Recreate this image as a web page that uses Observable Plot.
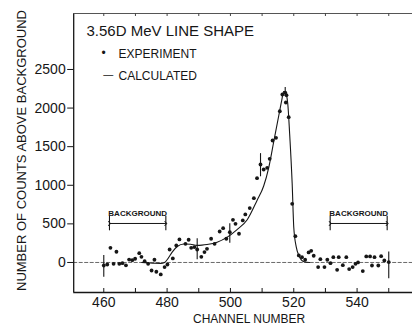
<!DOCTYPE html>
<html><head><meta charset="utf-8">
<script src="https://cdn.jsdelivr.net/npm/d3@7"></script>
<script src="https://cdn.jsdelivr.net/npm/@observablehq/plot@0.6"></script>
<style>
html,body{margin:0;padding:0;background:#fff;}
#chart svg{display:block;}
</style></head><body><div id="chart"></div>
<script>
// Experimental points (channel, counts above background)
const expChannel = [460.0,461.1,462.1,463.1,464.0,464.9,465.9,467.0,468.0,469.0,469.9,471.2,471.9,472.9,474.0,475.1,476.0,476.6,478.0,479.2,480.1,480.8,481.8,482.9,483.9,485.8,486.8,487.6,488.6,489.5,490.8,491.8,492.6,493.9,495.0,496.6,497.7,498.7,499.8,500.8,501.6,502.7,503.9,504.7,506.1,507.4,508.4,509.5,510.5,511.6,512.4,513.3,514.4,515.6,516.4,517.3,517.5,517.7,518.4,519.5,520.5,521.6,522.6,523.6,524.7,525.5,526.3,527.7,528.4,529.7,530.6,531.6,532.5,533.7,534.2,535.5,536.6,537.5,538.6,539.5,540.3,541.8,542.9,544.1,544.7,545.5,546.7,547.6,548.6,550.0];
const expCounts  = [-39,-26,190,-17,139,-17,-9,-37,37,30,48,120,73,17,-17,-104,35,-120,-155,-60,-26,168,52,220,298,242,294,190,200,168,73,135,177,307,242,401,444,307,392,553,501,372,544,622,705,833,1092,1269,1204,1226,1343,1580,1615,1959,2176,2201,2072,2167,1882,760,340,91,69,35,130,151,87,-60,43,-60,35,-9,69,-95,69,-35,69,-86,-60,-17,0,-112,78,78,-39,69,-39,82,26,5];

// Error bars
const errChannel = [460.0, 489.5, 499.8, 509.5, 517.3, 550.0];
const errLow     = [-190, 35, 250, 1110, 2150, -211];
const errHigh    = [91, 307, 501, 1410, 2265, 134];

// Calculated line shape
const calcChannel = [472,474,476,478,479.2,480,481.6,483.2,485.3,487.4,489.5,491,492.6,495.8,499,502,505.3,508.4,510.5,512.1,513.7,515.3,516.2,516.8,517.4,518.1,518.7,519.5,520,520.8,521.6,523.2,525];
const calcCounts  = [0,-5,-10,-12,0,35,134,207,240,235,222,225,233,263,328,423,553,803,990,1230,1570,1910,2100,2215,2200,2060,1667,1019,457,198,91,10,0];

// Background regions
const bgStart = [461.8, 531.5];
const bgEnd   = [479.6, 549.5];
const bgLabel = ["BACKGROUND", "BACKGROUND"];

// Ticks and text
const yTicks = [0, 500, 1000, 1500, 2000, 2500];
const xTickLabels = [460, 480, 500, 520, 540];
const xMinorTicks = [460, 470, 480, 490, 500, 510, 520, 530, 540, 550];
const titleText = "3.56D MeV LINE SHAPE";
const legendExp = "EXPERIMENT";
const legendCalc = "CALCULATED";
const xLabel = "CHANNEL NUMBER";
const yLabel = "NUMBER OF COUNTS ABOVE BACKGROUND";

const expData = expChannel.map((c, i) => ({c, v: expCounts[i]}));
const errData = errChannel.map((c, i) => ({c, lo: errLow[i], hi: errHigh[i]}));
const calcData = calcChannel.map((c, i) => ({c, v: calcCounts[i]}));
const bgLevel = 505, bgHalf = 95;
const bgData = bgStart.map((s, i) => ({s, e: bgEnd[i], m: (s + bgEnd[i]) / 2, label: bgLabel[i]}));

const xDomain = [450.5, 557.5];
const yDomain = [-389, 3225];
const font = "'Liberation Sans', Arial, sans-serif";
const ink = "#161616";

const chart = Plot.plot({
  width: 412, height: 326,
  marginLeft: 73.2, marginRight: 0, marginTop: 13, marginBottom: 34,
  x: {domain: xDomain, axis: null},
  y: {domain: yDomain, axis: null},
  style: {fontFamily: font, background: "#fff", color: ink},
  marks: [
    Plot.ruleY([0], {stroke: "#444", strokeWidth: 0.8, strokeDasharray: "4,1.5"}),
    Plot.line(calcData, {x: "c", y: "v", curve: "monotone-x", stroke: ink, strokeWidth: 1.1}),
    Plot.ruleX(errData, {x: "c", y1: "lo", y2: "hi", stroke: ink, strokeWidth: 1.1}),
    Plot.dot(expData, {x: "c", y: "v", r: 1.9, fill: ink, stroke: null}),
    // background brackets
    Plot.link(bgData, {x1: "s", x2: "e", y1: () => bgLevel, y2: () => bgLevel, stroke: ink, strokeWidth: 1, markerStart: "arrow", markerEnd: "arrow"}),
    Plot.ruleX(bgData, {x: "s", y1: () => bgLevel - bgHalf, y2: () => bgLevel + bgHalf, stroke: ink, strokeWidth: 1.1}),
    Plot.ruleX(bgData, {x: "e", y1: () => bgLevel - bgHalf, y2: () => bgLevel + bgHalf, stroke: ink, strokeWidth: 1.1}),
    Plot.text(bgData, {x: "m", y: () => bgLevel, text: "label", dy: -7, lineAnchor: "bottom", fontSize: 8, fontWeight: "bold", fill: ink, ariaLabel: "bglabel"}),
    // frame
    Plot.ruleX([xDomain[0]], {stroke: ink, strokeWidth: 1.3}),
    Plot.ruleY([yDomain[0]], {stroke: ink, strokeWidth: 1.3}),
    Plot.ruleY([yDomain[1]], {stroke: "#555", strokeWidth: 1}),
    Plot.ruleX(xMinorTicks, {stroke: ink, strokeWidth: 1, insetTop: 275}),
    Plot.ruleX(xMinorTicks, {stroke: "#444", strokeWidth: 1, insetBottom: 276}),
    Plot.axisY(yTicks, {anchor: "left", tickSize: 6, tickPadding: 2, fontSize: 14, tickFormat: d => String(d), stroke: ink, fill: ink, ariaLabel: "yticks"}),
    Plot.axisX(xTickLabels, {anchor: "bottom", tickSize: 0, tickPadding: 5, fontSize: 14, tickFormat: d => String(d), fill: ink, ariaLabel: "xticks"}),
    // titles / legend
    Plot.text([titleText], {text: d => d, frameAnchor: "top-left", dx: 12.8, dy: 22, lineAnchor: "bottom", textAnchor: "start", fontSize: 15, fill: ink, ariaLabel: "title"}),
    Plot.text(["•"], {text: d => d, frameAnchor: "top-left", dx: 29.8, dy: 39.5, lineAnchor: "middle", textAnchor: "middle", fontSize: 12, fill: ink}),
    Plot.text([legendExp], {text: d => d, frameAnchor: "top-left", dx: 44.8, dy: 44.5, lineAnchor: "bottom", textAnchor: "start", fontSize: 12, fill: ink, ariaLabel: "legend"}),
    Plot.text(["—"], {text: d => d, frameAnchor: "top-left", dx: 29.5, dy: 61.3, lineAnchor: "middle", textAnchor: "start", fontSize: 10, fill: ink}),
    Plot.text([legendCalc], {text: d => d, frameAnchor: "top-left", dx: 44.8, dy: 66, lineAnchor: "bottom", textAnchor: "start", fontSize: 12, fill: ink, ariaLabel: "legend"}),
    Plot.text([xLabel], {text: d => d, frameAnchor: "bottom", dx: 6, dy: 30.5, lineAnchor: "bottom", textAnchor: "middle", fontSize: 12, fill: ink, ariaLabel: "xlabel"}),
    Plot.text([yLabel], {text: d => d, frameAnchor: "left", rotate: -90, dx: -52, dy: -2.5, lineAnchor: "middle", textAnchor: "middle", fontSize: 13, fill: ink, ariaLabel: "ylabel"})
  ]
});
document.getElementById("chart").appendChild(chart);
const svg = d3.select(chart);
svg.selectAll('g[aria-label="title"] text').attr("letter-spacing", "1px");
svg.selectAll('g[aria-label="legend"] text').attr("letter-spacing", "1.2px");
svg.selectAll('g[aria-label="xlabel"] text').attr("letter-spacing", "1.5px");
svg.selectAll('g[aria-label="ylabel"] text').attr("letter-spacing", "0.2px");
svg.selectAll('g[aria-label="xticks"] text').attr("letter-spacing", "0.8px");
svg.selectAll('g[aria-label="yticks"] text').attr("letter-spacing", "0.8px");
svg.selectAll('g[aria-label="bglabel"] text').attr("letter-spacing", "0.3px");
</script></body></html>
